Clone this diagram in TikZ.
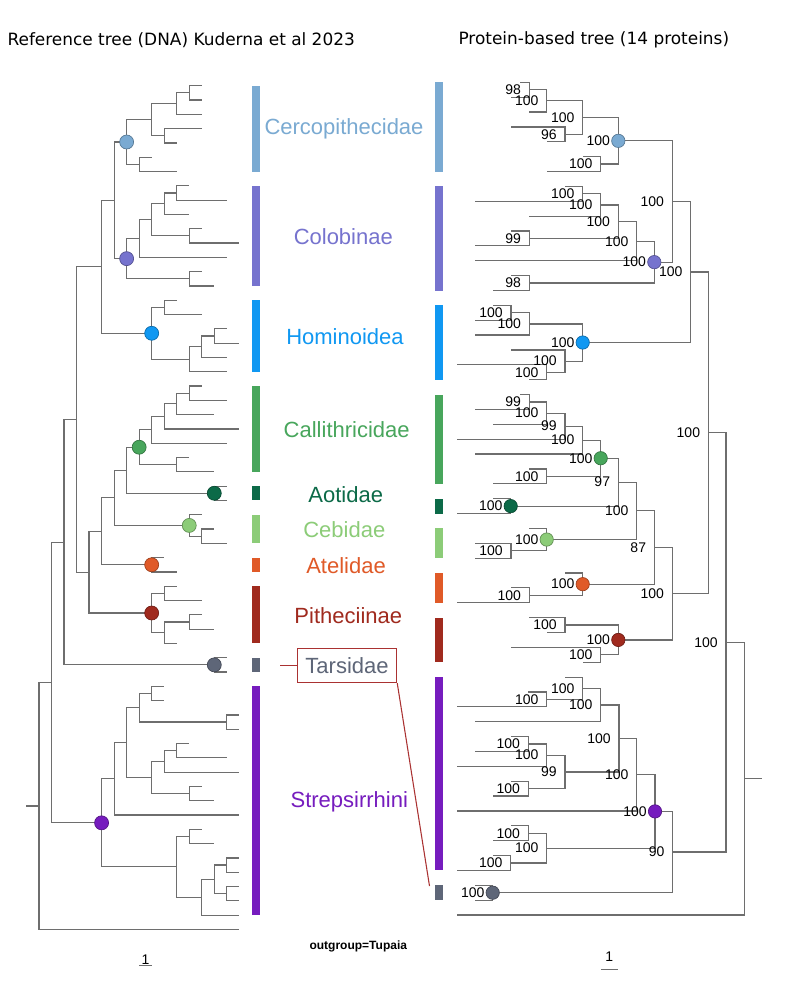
\documentclass[tikz,border=0pt]{standalone}
\usepackage{fontspec}
\setmainfont{Liberation Sans}
\newfontfamily\djv{DejaVu Sans}
\definecolor{brc}{RGB}{110,110,110}
\definecolor{cerco}{RGB}{122,170,210}
\definecolor{colob}{RGB}{118,115,206}
\definecolor{homin}{RGB}{16,152,242}
\definecolor{calli}{RGB}{72,166,92}
\definecolor{aot}{RGB}{12,106,72}
\definecolor{ceb}{RGB}{140,204,120}
\definecolor{atel}{RGB}{224,90,40}
\definecolor{pith}{RGB}{160,42,30}
\definecolor{tars}{RGB}{94,102,120}
\definecolor{strep}{RGB}{118,28,190}
\definecolor{boxred}{RGB}{170,50,50}
\tikzset{
 br/.style={draw=brc, line width=0.9pt},
 bs/.style={anchor=east, inner sep=0pt, font=\fontsize{10.5}{12}\selectfont, text=black},
 dotL/.style={circle, inner sep=0pt, minimum size=10.5pt, fill=#1, draw=#1!70!black, line width=0.5pt},
 dotR/.style={circle, inner sep=0pt, minimum size=10pt, fill=#1, draw=#1!70!black, line width=0.5pt},
 clab/.style={font=\fontsize{16.5}{18}\selectfont, text=#1, inner sep=0pt},
 hdr/.style={font=\djv\fontsize{12.7}{14}\selectfont, anchor=west, inner sep=0pt},
}
\begin{document}
\begin{tikzpicture}[x=0.75pt,y=-0.75pt]
\useasboundingbox (0,0) rectangle (786,1000);
\fill[white] (0,0) rectangle (786,1000);
% headers
\node[hdr] (h-left) at (7.3,40) {Reference tree (DNA) Kuderna et al 2023};
\node[hdr] (h-right) at (458.3,40) {Protein-based tree (14 proteins)};

% ================= LEFT TREE =================
\begin{scope}[shift={(39,85.7)}, x=9.39pt, y=-10.725pt]
\foreach \n/\xx in {0/13,1/13,2/13,3/13,4/11,5/9,6/11,7/12,8/15,9/12,10/13,11/16,12/15,13/13,14/14,
 15/11,16/13,17/15,18/16,19/15,20/15,21/13,22/15,23/14,24/16,25/15,26/12,27/14,28/15,29/15,
 30/13,31/14,32/15,33/10,34/11,35/11,36/13,37/13,38/14,39/11,40/15,41/15,
 42/10,43/10,44/16,45/16,46/12,47/15,48/16,49/13,50/14,51/16,52/13,53/14,54/16,55/16,56/16,57/16,58/16,59/16}
 \coordinate (L-l\n) at (\xx,\n);
\foreach \n/\xx/\yy in {c1/12/0.5, c2/11/1.25, c3/10/3.5, c4/9/2.375, c5/8/5.5, cR/7/3.9375,
 o1/11/7.5, o2/10/8.25, o3/12/10.5, o4/9/9.375, o5/8/10.6875, o6/12/13.5, oR/7/12.09375,
 cc/6/8.015625, h1/10/15.5, h2/14/17.5, h3/13/18.25, h4/12/19.125, hR/9/17.3125, cat/5/12.6641,
 a1/12/21.5, a2/11/22.25, a3/10/23.125, a4/9/24.0625, a5/11/26.5, aR/8/25.28125,
 ao/14/28.5, pa/7/26.890625, ce1/13/31.5, ceR/12/30.75, pb/6/28.8203, at/9/33.5, pc/5/31.1602,
 pi1/10/35.5, pi2/12/37.5, pi3/10/38.25, piR/9/36.875, plat/4/34.0176, anth/3/23.3408,
 ta/14/40.5, hap/2/31.9204,
 s1/9/42.5, s2/15/44.5, s3/8/43.5, s4/11/46.5, s5/10/47.25, s6/12/49.5, s7/9/48.375, s8/7/45.9375,
 s9/6/48.46875, s10/12/52.5, s11/15/54.5, s12/15/56.5, s13/14/55.5, s14/13/56.75, s15/11/54.625,
 sR/5/51.546875, prim/1/41.7336, root/0/50.3668, stub/-1/50.3668}
 \coordinate (L-\n) at (\xx,\yy);
\foreach \p/\c in {c1/l0,c1/l1,c2/c1,c2/l2,c3/l3,c3/l4,c4/c2,c4/c3,c5/l5,c5/l6,cR/c4,cR/c5,
 o1/l7,o1/l8,o2/o1,o2/l9,o3/l10,o3/l11,o4/o2,o4/o3,o5/o4,o5/l12,o6/l13,o6/l14,oR/o5,oR/o6,
 cc/cR,cc/oR,h1/l15,h1/l16,h2/l17,h2/l18,h3/h2,h3/l19,h4/h3,h4/l20,hR/h1,hR/h4,cat/cc,cat/hR,
 a1/l21,a1/l22,a2/a1,a2/l23,a3/a2,a3/l24,a4/a3,a4/l25,a5/l26,a5/l27,aR/a4,aR/a5,
 ao/l28,ao/l29,pa/aR,pa/ao,ce1/l31,ce1/l32,ceR/l30,ceR/ce1,pb/pa,pb/ceR,at/l33,at/l34,pc/pb,pc/at,
 pi1/l35,pi1/l36,pi2/l37,pi2/l38,pi3/pi2,pi3/l39,piR/pi1,piR/pi3,plat/pc,plat/piR,anth/cat,anth/plat,
 ta/l40,ta/l41,hap/anth,hap/ta,
 s1/l42,s1/l43,s2/l44,s2/l45,s3/s1,s3/s2,s4/l46,s4/l47,s5/s4,s5/l48,s6/l49,s6/l50,s7/s5,s7/s6,
 s8/s3,s8/s7,s9/s8,s9/l51,s10/l52,s10/l53,s11/l54,s11/l55,s12/l56,s12/l57,s13/s11,s13/s12,
 s14/s13,s14/l58,s15/s10,s15/s14,sR/s9,sR/s15,prim/hap,prim/sR,root/prim,root/l59}
 \draw[br] (L-\p) |- (L-\c);
\draw[br] (L-stub) -- (L-root);
\foreach \n/\cl in {cR/cerco,oR/colob,hR/homin,aR/calli,ao/aot,ceR/ceb,at/atel,piR/pith,ta/tars,sR/strep}
 \node[dotL=\cl] (L-\n-dot) at (L-\n) {};
\coordinate (L-sb1) at (8,61.5);
\coordinate (L-sb2) at (9,61.5);
\end{scope}
\draw[br] (L-sb1) -- (L-sb2);
\node[font=\fontsize{10.5}{12}\selectfont, inner sep=0pt] (L-sblab) at (145.5,960) {1};

% left bars
\fill[cerco] (252.3,85.7) rectangle (260,171.5);
\fill[colob] (252.3,185.8) rectangle (260,285.9);
\fill[homin] (252.3,300.2) rectangle (260,371.7);
\fill[calli] (252.3,386) rectangle (260,471.8);
\fill[aot] (252.3,486.1) rectangle (260,500.4);
\fill[ceb] (252.3,514.7) rectangle (260,543.3);
\fill[atel] (252.3,557.6) rectangle (260,571.9);
\fill[pith] (252.3,586.2) rectangle (260,643.4);
\fill[tars] (252.3,657.7) rectangle (260,672);
\fill[strep] (252.3,686.3) rectangle (260,915.1);

% right bars
\fill[cerco] (435,82.3) rectangle (442.7,171.5);
\fill[colob] (435,186.4) rectangle (442.7,290.5);
\fill[homin] (435,305.4) rectangle (442.7,379.7);
\fill[calli] (435,394.6) rectangle (442.7,483.8);
\fill[aot] (435,498.7) rectangle (442.7,513.5);
\fill[ceb] (435,528.4) rectangle (442.7,558.1);
\fill[atel] (435,573) rectangle (442.7,602.8);
\fill[pith] (435,617.6) rectangle (442.7,662.2);
\fill[strep] (435,677.1) rectangle (442.7,870.4);
\fill[tars] (435,885.3) rectangle (442.7,900.2);

% clade labels
\node[clab=cerco] (t-cerco) at (344,129.3) {Cercopithecidae};
\node[clab=colob] (t-colob) at (343.3,236.7) {Colobinae};
\node[clab=homin] (t-homin) at (345,336.7) {Hominoidea};
\node[clab=calli] (t-calli) at (346.7,430) {Callithricidae};
\node[clab=aot] (t-aot) at (345.7,494.3) {Aotidae};
\node[clab=ceb] (t-ceb) at (344.3,530) {Cebidae};
\node[clab=atel] (t-atel) at (346,565.7) {Atelidae};
\node[clab=pith] (t-pith) at (348.3,616) {Pitheciinae};
\node[clab=strep] (t-strep) at (349.3,801.7) {Strepsirrhini};
\node[clab=tars, draw=boxred, line width=0.8pt, minimum width=74.6pt, minimum height=25.8pt] (tbox) at (347,665.5) {Tarsidae};
\coordinate (tb-l) at (280,665.5);
\coordinate (tb-r) at (429.5,886);
\draw[boxred, line width=0.8pt] (tb-l) -- (tbox.west);
\draw[boxred, line width=0.8pt] (tbox.south east) -- (tb-r);
\node[font=\bfseries\fontsize{9}{10}\selectfont, inner sep=0pt] (outg) at (358.3,946.7) {outgroup=Tupaia};

% ================= RIGHT TREE =================
\begin{scope}[shift={(0,82.3)}, y=-11.1525pt]
\foreach \n/\xx in {0/520,1/511,2/529.3,3/511,4/546.7,5/582.7,6/546.7,7/565,8/475,9/529.3,10/511,
 11/475,12/475,13/511,14/493.3,15/493.3,16/475,17/475,18/511,19/456.7,20/529.3,
 21/520,22/475,23/493.3,24/456.7,25/475,26/529.3,27/493.3,28/493.3,29/456.7,
 30/529.3,31/475,32/475,33/565,34/511,35/456.7,36/529.3,37/546.7,38/511,39/582.7,
 40/565,41/528.3,42/456.7,43/475,44/510.7,45/475,46/456.7,47/510.7,48/492.7,49/456.7,
 50/510.7,51/492.7,52/492.7,53/456.7,54/475,55/475,56/456.7}
 \coordinate (R-l\n) at (\xx,\n);
\foreach \n/\xx/\yy in {r1/529.3/0.5, r2/546.7/1.25, r3/565/3.5, r4/582.7/2.375, r5/600.7/5.5, rC/618.3/3.9375,
 o1/582.7/7.5, o2/600.7/8.25, o3/529.3/10.5, o4/618.3/9.375, o5/636.7/10.6875, o6/529.3/13.5, oC/654.3/12.09375,
 cc/672.3/8.015625, h1/511/15.5, h2/529.3/16.25, h3/546.7/19.5, h4/565/18.75, hR/582.7/17.5, n14/690.7/12.7578,
 a1/529.3/21.5, a2/546.7/22.25, a3/565/23.125, a4/582.7/24.0625, a5/546.7/26.5, aR/600.7/25.28125,
 ao/510.7/28.5, pa/618.3/26.890625, ce1/511/31.5, ceR/546.7/30.75, pb/636.7/28.8203,
 at1/529.3/34.5, atR/582.7/33.75, pc/654.3/31.2852, pi1/565/36.5, pi2/600.7/38.5, piR/618.3/37.5,
 plat/672.3/34.3926, anth/708.3/23.5752,
 s1/546.7/41.5, s2/582.7/40.75, s3/600.7/41.875, s4/528.3/44.5, s5/546.7/45.25, s6/528.3/47.5,
 s7/565/46.375, s8/619/44.125, s9/636.7/46.5625, s10/528.3/50.5, s11/510.7/52.5, s12/546.7/51.5,
 sR/655/49.03125, ta/492.7/54.5, st/672.7/51.7656, prim/726/37.6704, root/744.3/46.8352, stub/761.7/46.8352}
 \coordinate (R-\n) at (\xx,\yy);
\foreach \p/\c in {r1/l0,r1/l1,r2/r1,r2/l2,r3/l3,r3/l4,r4/r2,r4/r3,r5/l5,r5/l6,rC/r4,rC/r5,
 o1/l7,o1/l8,o2/o1,o2/l9,o3/l10,o3/l11,o4/o2,o4/o3,o5/o4,o5/l12,o6/l13,o6/l14,oC/o5,oC/o6,cc/rC,cc/oC,
 h1/l15,h1/l16,h2/h1,h2/l17,h3/l19,h3/l20,h4/l18,h4/h3,hR/h2,hR/h4,n14/cc,n14/hR,
 a1/l21,a1/l22,a2/a1,a2/l23,a3/a2,a3/l24,a4/a3,a4/l25,a5/l26,a5/l27,aR/a4,aR/a5,
 ao/l28,ao/l29,pa/aR,pa/ao,ce1/l31,ce1/l32,ceR/l30,ceR/ce1,pb/pa,pb/ceR,
 at1/l34,at1/l35,atR/l33,atR/at1,pc/pb,pc/atR,pi1/l36,pi1/l37,pi2/l38,pi2/l39,piR/pi1,piR/pi2,
 plat/pc,plat/piR,anth/n14,anth/plat,
 s1/l41,s1/l42,s2/l40,s2/s1,s3/s2,s3/l43,s4/l44,s4/l45,s5/s4,s5/l46,s6/l47,s6/l48,s7/s5,s7/s6,
 s8/s3,s8/s7,s9/s8,s9/l49,s10/l50,s10/l51,s11/l52,s11/l53,s12/s10,s12/s11,sR/s9,sR/s12,
 ta/l54,ta/l55,st/sR,st/ta,prim/anth,prim/st,root/prim,root/l56}
 \draw[br] (R-\p) |- (R-\c);
\draw[br] (R-root) -- (R-stub);
\foreach \n/\cl in {rC/cerco,oC/colob,hR/homin,aR/calli,ao/aot,ceR/ceb,atR/atel,piR/pith,sR/strep,ta/tars}
 \node[dotR=\cl] (R-\n-dot) at (R-\n) {};
\foreach \n/\t in {r1/98,r2/100,r3/96,r4/100,r5/100,rC/100,o1/100,o2/100,o3/99,o4/100,o5/100,o6/98,oC/100,cc/100,
 h1/100,h2/100,h3/100,h4/100,hR/100,n14/100,a1/99,a2/100,a3/99,a4/100,a5/100,aR/100,ao/100,pa/97,
 ce1/100,ceR/100,pb/100,at1/100,atR/100,pc/87,pi1/100,pi2/100,piR/100,plat/100,anth/100,
 s1/100,s2/100,s3/100,s4/100,s5/100,s6/100,s7/99,s8/100,s9/100,s10/100,s11/100,s12/100,sR/100,
 ta/100,st/90,prim/100}
 \node[bs] (R-\n-t) at ([xshift=-6pt]R-\n) {\t};
\end{scope}
\coordinate (R-sb1) at (601,969.3);
\coordinate (R-sb2) at (618.3,969.3);
\draw[br] (R-sb1) -- (R-sb2);
\node[font=\fontsize{10.5}{12}\selectfont, inner sep=0pt] (R-sblab) at (609.3,956.7) {1};
\end{tikzpicture}
\end{document}
